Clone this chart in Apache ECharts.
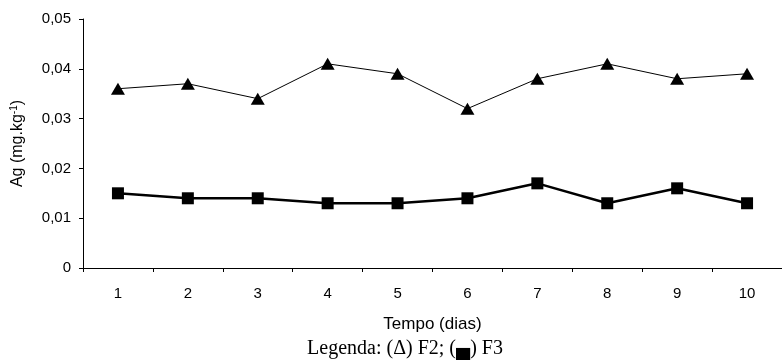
<!DOCTYPE html>
<html>
<head>
<meta charset="utf-8">
<script src="https://cdn.jsdelivr.net/npm/echarts@6/dist/echarts.min.js"></script>
<style>
html, body { margin: 0; padding: 0; background: #fff; }
#chart { width: 782px; height: 360px; }
</style>
</head>
<body>
<div id="chart"></div>
<script>
// dados
var dias = ['1', '2', '3', '4', '5', '6', '7', '8', '9', '10'];
var f2 = [0.036, 0.037, 0.034, 0.041, 0.039, 0.032, 0.038, 0.041, 0.038, 0.039];
var f3 = [0.015, 0.014, 0.014, 0.013, 0.013, 0.014, 0.017, 0.013, 0.016, 0.013];

var chart = echarts.init(document.getElementById('chart'));

var option = {
    backgroundColor: '#fff',
    animation: false,
    textStyle: { fontFamily: 'Liberation Sans, Arial, sans-serif', color: '#000' },
    grid: { left: 83, top: 19, width: 703, height: 249 },
    xAxis: {
        type: 'category',
        data: dias,
        boundaryGap: true,
        name: 'Tempo (dias)',
        nameLocation: 'middle',
        nameGap: 48,
        nameTextStyle: { fontSize: 17, color: '#000' },
        axisLine: { lineStyle: { color: '#000', width: 1 } },
        axisTick: { show: true, length: 4, alignWithLabel: false, lineStyle: { color: '#000' } },
        axisLabel: { fontSize: 15, color: '#000', margin: 18 },
        splitLine: { show: false }
    },
    yAxis: {
        type: 'value',
        min: 0,
        max: 0.05,
        interval: 0.01,
        name: '{n|Ag (mg.kg}{s|-1}{n|)}',
        nameLocation: 'middle',
        nameGap: 56,
        nameTextStyle: {
            rich: {
                n: { fontSize: 16, color: '#000' },
                s: { fontSize: 10, color: '#000', verticalAlign: 'top', padding: [0, 0, 8, 0] }
            }
        },
        axisLine: { show: true, lineStyle: { color: '#000', width: 1 } },
        axisTick: { show: true, length: 4, lineStyle: { color: '#000' } },
        axisLabel: {
            fontSize: 15, color: '#000', margin: 12,
            formatter: function (v) { return v === 0 ? '0' : v.toFixed(2).replace('.', ','); }
        },
        splitLine: { show: false }
    },
    series: [
        {
            name: 'F2',
            type: 'line',
            data: f2,
            symbol: 'triangle',
            symbolSize: [14, 12],
            itemStyle: { color: '#000' },
            lineStyle: { color: '#000', width: 1 }
        },
        {
            name: 'F3',
            type: 'line',
            data: f3,
            symbol: 'rect',
            symbolSize: 12,
            itemStyle: { color: '#000' },
            lineStyle: { color: '#000', width: 2.5 }
        }
    ],
    graphic: [{
        type: 'text',
        x: 405,
        y: 349,
        style: {
            text: 'Legenda: (\u0394) F2; (\u2584) F3',
            font: '20px "Liberation Serif", "Times New Roman", serif',
            fill: '#000',
            textAlign: 'center',
            textVerticalAlign: 'middle'
        }
    }]
};

chart.setOption(option);
</script>
</body>
</html>
